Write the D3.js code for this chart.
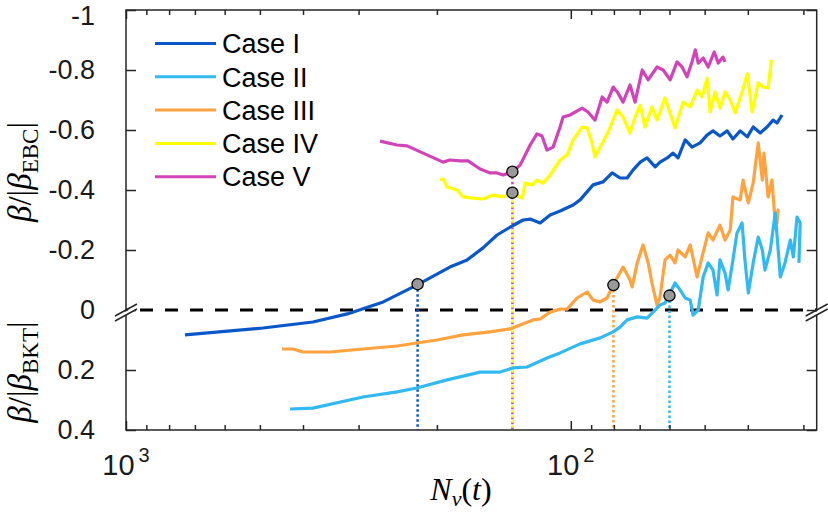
<!DOCTYPE html>
<html>
<head>
<meta charset="utf-8">
<script src="https://cdn.jsdelivr.net/npm/d3@7"></script>
<style>
  body { margin: 0; background: #fff; }
  svg { display: block; }
</style>
</head>
<body>
<div id="chart"></div>
<script>
'use strict';

// ---- data (N_v on a reversed log axis, beta ratio on y) ----
var caseNames = ['Case I', 'Case II', 'Case III', 'Case IV', 'Case V'];

var case1N = [737, 492, 380, 318, 264, 222, 187, 171, 157.5, 146.5, 135.5, 128, 123.4, 117.2, 111.3, 105.7,
  98.8, 95.3, 89.1, 84.6, 80.7, 77.5, 74.7, 72.4, 69.8, 67.4, 64.6, 63.0, 60.7, 58.9, 57.4, 55.3, 53.4, 51.2,
  49.4, 47.9, 46.2, 44.5, 43.2, 41.6, 40.1, 38.9, 37.5, 36.2, 35.1, 34.4, 33.5];
var case1Y = [0.083, 0.06, 0.04, 0.013, -0.027, -0.083, -0.143, -0.167, -0.207, -0.25, -0.28, -0.3, -0.303, -0.29,
  -0.317, -0.33, -0.35, -0.367, -0.417, -0.427, -0.457, -0.44, -0.44, -0.467, -0.493, -0.507, -0.477, -0.493,
  -0.507, -0.523, -0.507, -0.567, -0.543, -0.557, -0.583, -0.597, -0.58, -0.597, -0.57, -0.597, -0.577, -0.61,
  -0.59, -0.61, -0.633, -0.623, -0.65];

var case2N = [427.7, 380, 293.1, 245.8, 222, 189.7, 159.9, 144.2, 134.8, 125.4, 113.1, 105.7, 95.3, 85.9, 80.3,
  77.5, 74.7, 70.9, 67.4, 65.3, 63.0, 61.4, 60.1, 58.3, 56.8, 55.3, 53.9, 53.1, 51.7, 50.4, 49.1, 47.9, 46.9,
  46.2, 45.0, 44.3, 43.2, 42.3, 41.2, 40.6, 39.9, 38.9, 37.9, 37.1, 36.6, 35.6, 34.7, 33.8, 33.0, 32.1, 31.6,
  31.0, 30.5, 30.7];
var case2Y = [0.33, 0.327, 0.29, 0.273, 0.26, 0.233, 0.207, 0.207, 0.193, 0.19, 0.16, 0.143, 0.113, 0.093, 0.073,
  0.057, 0.033, 0.023, 0.027, 0.007, -0.017, -0.023, -0.05, -0.09, -0.067, -0.04, -0.033, 0.017, 0, -0.11,
  -0.157, -0.133, -0.05, -0.167, -0.123, -0.067, -0.167, -0.257, -0.29, -0.167, -0.057, -0.157, -0.243, -0.2,
  -0.133, -0.2, -0.323, -0.11, -0.157, -0.233, -0.177, -0.31, -0.29, -0.157];

var case3N = [445.8, 421.2, 400, 347.8, 293.1, 245.8, 222, 199.8, 174.7, 151.9, 136.9, 130.0, 121.6, 117.2, 111.3,
  105.7, 101.9, 96.8, 91.9, 89.1, 85.9, 82.9, 80.3, 76.3, 73.6, 72.8, 70.9, 68.8, 67.0, 65.7, 64.0, 63.0, 61.4,
  59.8, 58.3, 57.4, 55.3, 53.9, 52.0, 50.7, 49.1, 47.9, 46.2, 45.0, 43.8, 43.2, 41.6, 41.0, 39.9, 38.9, 37.9,
  37.1, 36.8, 36.0, 35.3, 34.7, 34.2, 34.4];
var case3Y = [0.13, 0.13, 0.14, 0.14, 0.13, 0.12, 0.11, 0.1, 0.083, 0.073, 0.063, 0.05, 0.033, 0.03, 0.007,
  -0.003, -0.003, -0.04, -0.06, -0.033, -0.027, -0.04, -0.083, -0.143, -0.1, -0.077, -0.157, -0.217, -0.157,
  -0.09, -0.017, -0.043, -0.167, -0.183, -0.157, -0.2, -0.177, -0.217, -0.11, -0.177, -0.257, -0.233, -0.283,
  -0.233, -0.267, -0.377, -0.367, -0.433, -0.357, -0.423, -0.557, -0.433, -0.523, -0.377, -0.433, -0.29,
  -0.333, -0.287];

var case4N = [196.8, 193.7, 189.7, 180.2, 174.7, 165.9, 157.5, 149.6, 142.0, 135.5, 128.6, 126.7, 122.2, 119.1,
  115.5, 111.3, 105.7, 101.9, 98.8, 94.3, 91.9, 89.6, 88.2, 85.9, 82.4, 78.7, 76.3, 73.6, 71.7, 69.8, 68.1, 65.7,
  64.0, 61.4, 58.3, 55.9, 53.9, 52.0, 50.7, 49.4, 48.6, 47.4, 46.2, 45.0, 43.8, 42.7, 41.2, 40.1, 39.1, 37.9,
  36.9, 36.0, 35.4];
var case4Y = [-0.433, -0.437, -0.41, -0.4, -0.377, -0.373, -0.37, -0.383, -0.377, -0.39, -0.373, -0.423, -0.417,
  -0.433, -0.423, -0.45, -0.5, -0.517, -0.567, -0.61, -0.607, -0.557, -0.51, -0.543, -0.593, -0.667, -0.643,
  -0.59, -0.643, -0.683, -0.61, -0.677, -0.633, -0.707, -0.607, -0.693, -0.677, -0.733, -0.71, -0.773, -0.66,
  -0.727, -0.673, -0.727, -0.7, -0.657, -0.727, -0.787, -0.66, -0.757, -0.743, -0.74, -0.833];

var case5N = [268.4, 245.8, 233.4, 214.8, 193.7, 187, 177.4, 170.2, 159.9, 151.9, 146.5, 142.0, 135.5, 130.0,
  123.4, 119.1, 116.1, 113.1, 109.6, 105.7, 104.1, 100.4, 94.3, 91.5, 88.2, 85.0, 82.9, 80.3, 78.3, 76.3, 73.6,
  71.7, 69.1, 67.0, 64.0, 62.0, 59.8, 57.7, 56.2, 54.8, 53.4, 52.5, 51.7, 50.4, 49.1, 47.6, 46.6, 45.5, 45.0];
var case5Y = [-0.563, -0.55, -0.547, -0.523, -0.493, -0.5, -0.497, -0.497, -0.47, -0.457, -0.457, -0.45, -0.46,
  -0.483, -0.55, -0.587, -0.58, -0.533, -0.543, -0.61, -0.643, -0.65, -0.673, -0.66, -0.633, -0.71, -0.693,
  -0.743, -0.723, -0.693, -0.75, -0.693, -0.8, -0.767, -0.81, -0.8, -0.767, -0.827, -0.81, -0.777, -0.827,
  -0.867, -0.823, -0.84, -0.81, -0.86, -0.823, -0.843, -0.827];

// crossing points marked with grey dots (one per case)
var markerN = [221, 60, 80.2, 135.3, 135.3];
var markerY = [-0.086, -0.048, -0.083, -0.391, -0.461];

var xMajorTicks = [1000, 100];
var xMajorExp = ['3', '2'];
var xMinorTicks = [900, 800, 700, 600, 500, 400, 300, 200, 90, 80, 70, 60, 50, 40, 30];
var yTicks = [-1, -0.8, -0.6, -0.4, -0.2, 0, 0.2, 0.4];
var yTickLabels = ['-1', '-0.8', '-0.6', '-0.4', '-0.2', '0', '0.2', '0.4'];

// ---- styles ----
var colors = ['#0a57c9', '#33b9f2', '#ffa340', '#ffff00', '#d243b9'];
var axisColor = '#262626';
var sansFont = '"Liberation Sans", Arial, Helvetica, sans-serif';
var serifFont = '"Liberation Serif", "Times New Roman", serif';

var width = 828, height = 512;
var plot = { left: 126, right: 816.7, top: 10, bottom: 430 };

var x = d3.scaleLog().domain([1000, 28]).range([plot.left, plot.right]);
var y = d3.scaleLinear().domain([-1, 0.4]).range([plot.top, plot.bottom]);

var svg = d3.select('#chart').append('svg')
  .attr('width', width)
  .attr('height', height)
  .style('font-family', sansFont);

var line = d3.line()
  .x(function(d) { return x(d[0]); })
  .y(function(d) { return y(d[1]); });

var series = [
  d3.zip(case1N, case1Y),
  d3.zip(case2N, case2Y),
  d3.zip(case3N, case3Y),
  d3.zip(case4N, case4Y),
  d3.zip(case5N, case5Y)
];

// zero line
svg.append('line')
  .attr('x1', plot.left).attr('x2', plot.right)
  .attr('y1', y(0)).attr('y2', y(0))
  .style('stroke', '#000')
  .style('stroke-width', 3)
  .style('stroke-dasharray', '13,12')
  .style('stroke-dashoffset', 11);

// dotted drop lines from each marker
var dropOrder = [0, 2, 1, 4, 3];
dropOrder.forEach(function(i) {
  svg.append('line')
    .attr('x1', x(markerN[i])).attr('x2', x(markerN[i]))
    .attr('y1', y(markerY[i])).attr('y2', plot.bottom)
    .style('stroke', colors[i])
    .style('stroke-width', 2.5)
    .style('stroke-dasharray', '2.5,2.5')
    .style('stroke-dashoffset', i === 3 ? 2.5 : 0);
});

// the five curves
var drawOrder = [0, 2, 1, 3, 4];
drawOrder.forEach(function(i) {
  svg.append('path')
    .datum(series[i])
    .attr('d', line)
    .style('fill', 'none')
    .style('stroke', colors[i])
    .style('stroke-width', 3.2)
    .style('stroke-linejoin', 'round');
});

// markers
svg.selectAll('circle.marker')
  .data(d3.zip(markerN, markerY))
  .enter().append('circle')
  .attr('class', 'marker')
  .attr('cx', function(d) { return x(d[0]); })
  .attr('cy', function(d) { return y(d[1]); })
  .attr('r', 5.6)
  .style('fill', '#999999')
  .style('stroke', '#000')
  .style('stroke-width', 1.3);

// axes
function styleAxis(g) {
  g.select('.domain').remove();
  g.selectAll('.tick line').style('stroke', axisColor).style('stroke-width', 1.5);
}

svg.append('g')
  .attr('transform', 'translate(0,' + plot.bottom + ')')
  .call(d3.axisBottom(x).tickValues(xMinorTicks).tickSizeInner(-5).tickSizeOuter(0).tickFormat(''))
  .call(styleAxis);
svg.append('g')
  .attr('transform', 'translate(0,' + plot.bottom + ')')
  .call(d3.axisBottom(x).tickValues(xMajorTicks).tickSizeInner(-9).tickSizeOuter(0).tickFormat(''))
  .call(styleAxis);
svg.append('g')
  .attr('transform', 'translate(0,' + plot.top + ')')
  .call(d3.axisTop(x).tickValues(xMinorTicks).tickSizeInner(-5).tickSizeOuter(0).tickFormat(''))
  .call(styleAxis);
svg.append('g')
  .attr('transform', 'translate(0,' + plot.top + ')')
  .call(d3.axisTop(x).tickValues(xMajorTicks).tickSizeInner(-9).tickSizeOuter(0).tickFormat(''))
  .call(styleAxis);

var yAxisLeft = svg.append('g')
  .attr('transform', 'translate(' + plot.left + ',0)')
  .call(d3.axisLeft(y).tickValues(yTicks).tickSizeInner(-10).tickSizeOuter(0).tickPadding(31)
    .tickFormat(function(d, i) { return yTickLabels[i]; }))
  .call(styleAxis);
yAxisLeft.selectAll('.tick text')
  .style('font-family', sansFont)
  .style('font-size', '27px')
  .style('fill', '#1a1a1a');
// keep the top label inside the page
yAxisLeft.selectAll('.tick text')
  .filter(function(d) { return d === -1; })
  .attr('dy', '0.55em');

svg.append('g')
  .attr('transform', 'translate(' + plot.right + ',0)')
  .call(d3.axisRight(y).tickValues(yTicks).tickSizeInner(-10).tickSizeOuter(0).tickFormat(''))
  .call(styleAxis);

// x tick labels 10^3, 10^2
xMajorTicks.forEach(function(v, i) {
  var t = svg.append('text')
    .attr('x', x(v))
    .attr('y', 475)
    .attr('text-anchor', 'middle')
    .style('font-size', '29px')
    .style('fill', '#1a1a1a');
  t.append('tspan').text('10');
  t.append('tspan').attr('dx', 4).attr('dy', -13).style('font-size', '20px').text(xMajorExp[i]);
});

// box
svg.append('rect')
  .attr('x', plot.left).attr('y', plot.top)
  .attr('width', plot.right - plot.left)
  .attr('height', plot.bottom - plot.top)
  .style('fill', 'none')
  .style('stroke', axisColor)
  .style('stroke-width', 1.5);

// axis break marks at y = 0 on both sides
[plot.left, plot.right].forEach(function(bx) {
  var by = y(0);
  var g = svg.append('g').attr('transform', 'translate(' + bx + ',' + by + ')');
  g.append('polygon')
    .attr('points', '-11,7.5 11,-4.5 11,-1 -11,11')
    .style('fill', '#fff');
  g.append('line').attr('x1', -11).attr('y1', 6).attr('x2', 11).attr('y2', -6)
    .style('stroke', axisColor).style('stroke-width', 1.5);
  g.append('line').attr('x1', -11).attr('y1', 11).attr('x2', 11).attr('y2', -1)
    .style('stroke', axisColor).style('stroke-width', 1.5);
});

// legend
var legend = svg.append('g');
caseNames.forEach(function(name, i) {
  var ly = 43.5 + i * 33.3;
  legend.append('line')
    .attr('x1', 155).attr('x2', 216)
    .attr('y1', ly).attr('y2', ly)
    .style('stroke', colors[i])
    .style('stroke-width', 3);
  legend.append('text')
    .attr('x', 222).attr('y', ly)
    .attr('dy', '0.36em')
    .style('font-size', '27px')
    .style('fill', '#000')
    .text(name);
});

// axis titles
svg.append('text')
  .attr('x', 461).attr('y', 500)
  .attr('text-anchor', 'middle')
  .style('font-family', serifFont)
  .style('font-size', '32px')
  .call(function(t) {
    t.append('tspan').style('font-style', 'italic').text('N');
    t.append('tspan').style('font-style', 'italic').style('font-size', '22px').attr('dy', 6).text('v');
    t.append('tspan').attr('dy', -6).text('(');
    t.append('tspan').style('font-style', 'italic').text('t');
    t.append('tspan').text(')');
  });

function betaLabel(cy, sub) {
  var t = svg.append('text')
    .attr('transform', 'translate(31,' + cy + ') rotate(-90)')
    .attr('text-anchor', 'middle')
    .style('font-family', serifFont)
    .style('font-size', '33px');
  t.append('tspan').style('font-style', 'italic').text('\u03B2');
  t.append('tspan').text('/|');
  t.append('tspan').style('font-style', 'italic').text('\u03B2');
  t.append('tspan').attr('dy', 7).style('font-size', '23px').text(sub);
  t.append('tspan').attr('dy', -7).text('|');
}
betaLabel(172, 'EBC');
betaLabel(372, 'BKT');
</script>
</body>
</html>
